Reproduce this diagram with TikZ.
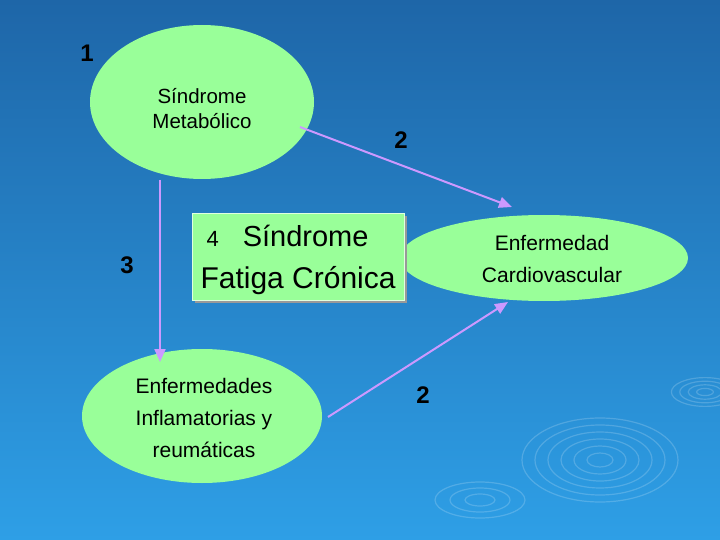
\documentclass[tikz,border=0pt]{standalone}
\usepackage{fontspec}
\setmainfont{Liberation Sans}
\usetikzlibrary{shapes.geometric,arrows.meta}
\definecolor{bgtop}{HTML}{1E66A8}
\definecolor{bgbot}{HTML}{2E9FE6}
\definecolor{lg}{HTML}{99FF99}
\definecolor{arr}{HTML}{CC99FF}
\tikzset{
  blob/.style={ellipse,fill=lg,draw=none,align=center,inner sep=0pt},
  link/.style={draw=arr,line width=2pt,-{Triangle[length=13pt,width=11pt]}},
  num/.style={font=\fontsize{24}{28}\selectfont\bfseries,text=black},
  ripple/.style={draw=white,opacity=0.18,line width=1.2pt}
}
\begin{document}
\begin{tikzpicture}[x=1pt,y=-1pt]
\shade[top color=bgtop,bottom color=bgbot] (0,0) rectangle (720,540);
\useasboundingbox (0,0) rectangle (720,540);
\foreach \r in {6,12,18,24} \draw[ripple] (705,392) ellipse ({\r*1.4} and {\r*0.6});
\foreach \r in {10,20,30,40,50,60} \draw[ripple] (600,460) ellipse ({\r*1.3} and {\r*0.7});
\foreach \r in {10,20,30} \draw[ripple] (480,500) ellipse ({\r*1.5} and {\r*0.6});
\node[blob,minimum width=224pt,minimum height=154pt] (sm) at (202,102) {};
\node[font=\fontsize{20.5}{25}\selectfont,align=center] at (202,109) {Síndrome\\Metabólico};
\node[blob,minimum width=288pt,minimum height=86pt] (cv) at (544,258) {};
\node[font=\fontsize{21}{25}\selectfont,align=center] at (552,259) {Enfermedad\\[7pt]Cardiovascular};
\node[blob,minimum width=240pt,minimum height=134pt] (ei) at (202,416) {};
\node[font=\fontsize{21}{25}\selectfont,align=center] at (204,418) {Enfermedades\\[7pt]Inflamatorias y\\[7pt]reumáticas};
\fill[black!40] (195,216) rectangle (407,303);
\node[fill=lg,draw=white!70!lg,minimum width=212pt,minimum height=87pt,inner sep=0pt] (fc) at (298,256.5) {};
\node[font=\fontsize{29}{34}\selectfont,anchor=west] at (203,236) {{\fontsize{22}{24}\selectfont 4}\hspace{24pt}Síndrome};
\node[font=\fontsize{30}{34}\selectfont,anchor=west] at (197,281) {Fatiga Crónica};
\coordinate (a1) at (300,127);
\coordinate (a2) at (160,180);
\coordinate (a3) at (328,417);
\draw[link] (a1) -- (512,207);
\draw[link] (a2) -- (160,362);
\draw[link] (a3) -- (508,302);
\node[num] at (87,53) {1};
\node[num] at (401,140) {2};
\node[num] at (127,265) {3};
\node[num] at (423,395) {2};
\end{tikzpicture}
\end{document}
